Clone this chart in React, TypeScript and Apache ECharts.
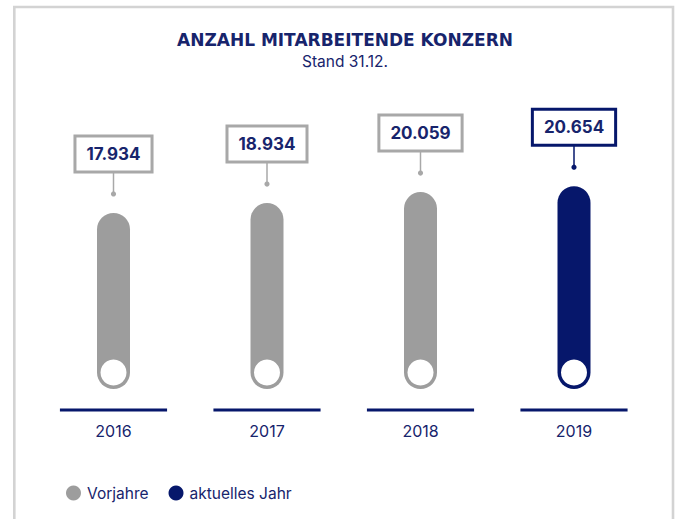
import React, { useEffect, useRef } from 'react';
import * as echarts from 'echarts';

const years = ['2016', '2017', '2018', '2019'];
const previousYears = [17934, 18934, 20059];
const currentYear = [20654];
const seriesNames = ['Vorjahre', 'aktuelles Jahr'];
const titleText = 'ANZAHL MITARBEITENDE KONZERN';
const subtitleText = 'Stand 31.12.';

const NAVY = '#06176b';
const GRAY = '#9d9d9d';
const BOX_GRAY = '#a8a8a8';
const TEXT_NAVY = '#17246c';

function fmt(v: number): string {
  const th = Math.floor(v / 1000);
  const rest = String(v % 1000).padStart(3, '0');
  return th + '.' + rest;
}

function makeRender(color: string, boxBorder: string) {
  return (params: any, api: any) => {
    const idx = api.value(0);
    const val = api.value(1);
    const top = api.coord([idx, val]);
    const base = api.coord([idx, 0]);
    const band = api.size([1, 0])[0];
    const w = 33;
    const cx = top[0];
    const ty = top[1];
    const by = base[1];
    return {
      type: 'group',
      children: [
        {
          type: 'line',
          shape: { x1: cx - band * 0.349, y1: by + 21, x2: cx + band * 0.349, y2: by + 21 },
          style: { stroke: NAVY, lineWidth: 3 },
        },
        {
          type: 'rect',
          shape: { x: cx - w / 2, y: ty, width: w, height: by - ty, r: w / 2 },
          style: { fill: color },
        },
        {
          type: 'circle',
          shape: { cx: cx, cy: by - w / 2, r: 13 },
          style: { fill: '#ffffff' },
        },
        {
          type: 'line',
          shape: { x1: cx, y1: ty - 41, x2: cx, y2: ty - 19 },
          style: { stroke: boxBorder, lineWidth: 1.5 },
        },
        {
          type: 'circle',
          shape: { cx: cx, cy: ty - 19, r: 2.6 },
          style: { fill: boxBorder },
        },
        {
          type: 'text',
          x: cx,
          y: ty - 42.5,
          style: {
            text: fmt(val),
            fill: TEXT_NAVY,
            fontFamily: 'Inter',
            fontWeight: 'bold',
            fontSize: 17,
            lineHeight: 19,
            align: 'center',
            verticalAlign: 'bottom',
            backgroundColor: '#ffffff',
            borderColor: boxBorder,
            borderWidth: 3,
            padding: [7, 10, 7, 10],
          },
        },
      ],
    };
  };
}

export default function App() {
  const ref = useRef<HTMLDivElement>(null);
  useEffect(() => {
    if (!ref.current) return;
    const chart = echarts.init(ref.current, null, { renderer: 'svg' });
    const option: any = {
      animation: false,
      backgroundColor: '#ffffff',
      grid: { left: 36.75, right: 27.25, top: 173, bottom: 130 },
      xAxis: {
        type: 'category',
        data: years,
        axisLine: { show: false },
        axisTick: { show: false },
        axisLabel: { margin: 34, fontFamily: 'Inter', fontSize: 16, color: TEXT_NAVY },
      },
      yAxis: { type: 'value', min: 0, max: 22000, show: false, splitLine: { show: false } },
      legend: {
        left: 61,
        top: 480,
        icon: 'circle',
        itemWidth: 15,
        itemHeight: 15,
        itemGap: 20,
        textStyle: { fontFamily: 'Inter', fontSize: 15.5, color: TEXT_NAVY, padding: [0, 0, 0, 1] },
        data: seriesNames,
      },
      graphic: [
        {
          type: 'rect',
          shape: { x: 14.3, y: 7, width: 658.7, height: 600 },
          style: { fill: 'none', stroke: '#d3d3d3', lineWidth: 2.6 },
          silent: true,
        },
        {
          type: 'text',
          x: 345,
          y: 40,
          style: {
            text: titleText,
            fill: TEXT_NAVY,
            fontFamily: 'DejaVu Sans',
            fontWeight: 'bold',
            fontSize: 17,
            align: 'center',
            verticalAlign: 'middle',
          },
        },
        {
          type: 'text',
          x: 345,
          y: 61.5,
          style: {
            text: subtitleText,
            fill: TEXT_NAVY,
            fontFamily: 'Inter',
            fontSize: 15.5,
            align: 'center',
            verticalAlign: 'middle',
          },
        },
      ],
      series: [
        {
          name: seriesNames[0],
          type: 'custom',
          itemStyle: { color: GRAY },
          encode: { x: 0, y: 1 },
          data: previousYears.map((v, i) => [i, v]),
          renderItem: makeRender(GRAY, BOX_GRAY),
        },
        {
          name: seriesNames[1],
          type: 'custom',
          itemStyle: { color: NAVY },
          encode: { x: 0, y: 1 },
          data: currentYear.map((v, i) => [previousYears.length + i, v]),
          renderItem: makeRender(NAVY, NAVY),
        },
      ],
    };
    chart.setOption(option);
    return () => chart.dispose();
  }, []);
  return (
    <div
      ref={ref}
      style={{ position: 'absolute', left: 0, top: 0, width: 678, height: 519 }}
    />
  );
}
